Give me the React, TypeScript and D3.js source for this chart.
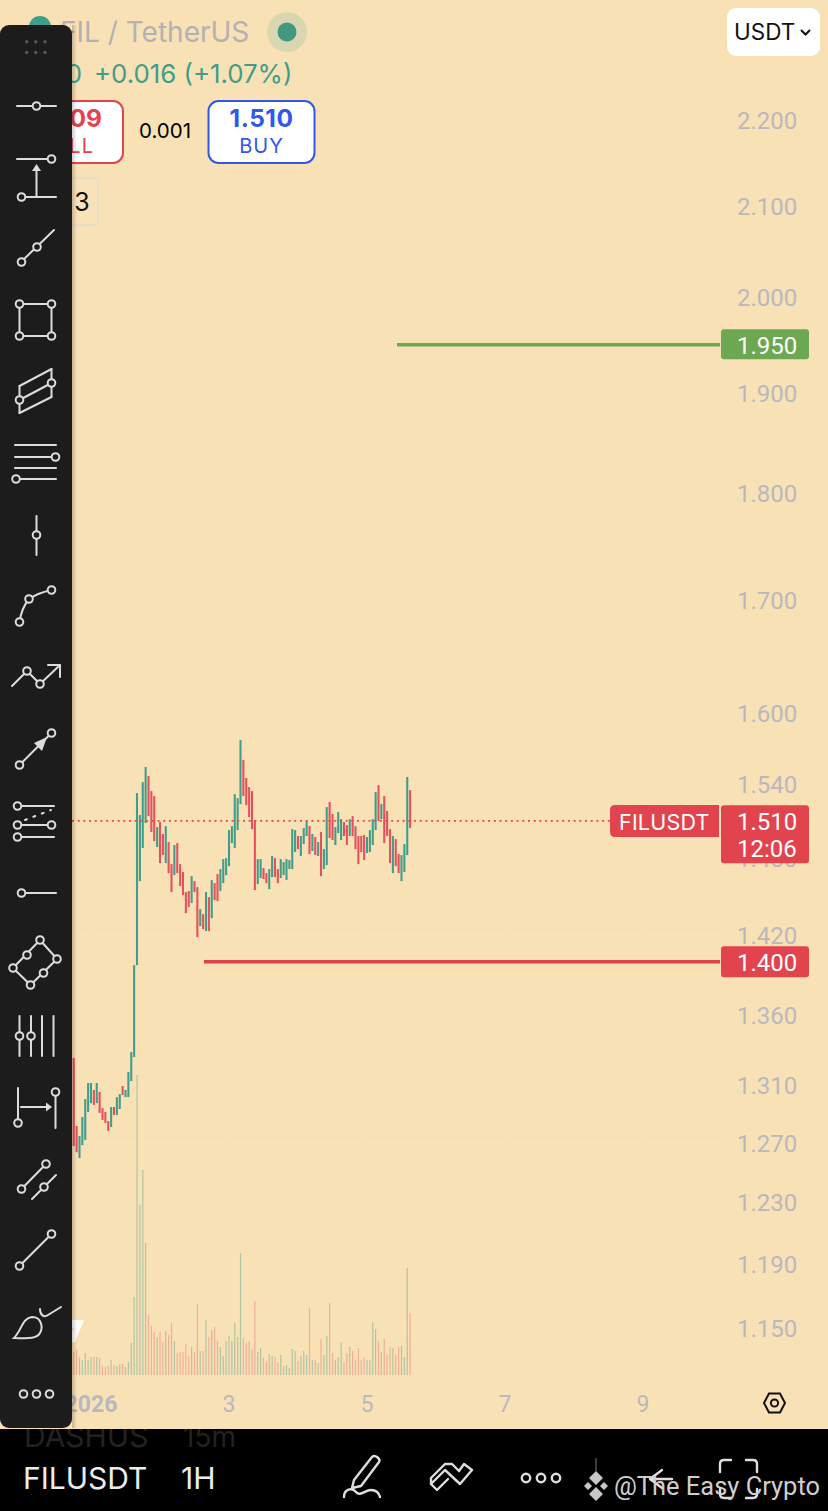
import * as d3 from "d3";

const WIDTH = 828;
const HEIGHT = 1511;
const FONT = "Inter, Roboto, sans-serif";
const NUM_FONT = "Roboto, Inter, sans-serif";

const priceTicks = [2.2, 2.1, 2.0, 1.9, 1.8, 1.7, 1.6, 1.54, 1.48, 1.42, 1.36, 1.31, 1.27, 1.23, 1.19, 1.15];
const dayTicks = [1, 3, 5, 7, 9];
const firstCandle = Date.UTC(2025, 11, 31, 18);
const lastPrice = 1.51;
const targetPrice = 1.95;
const stopPrice = 1.4;

const highs = [
  1.3294, 1.2818, 1.2749, 1.288, 1.3004, 1.3117, 1.3117, 1.3068, 1.3117, 1.3054, 1.2942, 1.2914, 1.2852, 1.2949, 1.2949, 1.3018,
  1.3039, 1.3096, 1.3068, 1.3195, 1.3337, 1.3974, 1.5327,
  1.5147, 1.5417, 1.5543, 1.5468, 1.5343, 1.5302, 1.5049, 1.509, 1.4994, 1.5057, 1.4929, 1.4753, 1.4905, 1.4921, 1.4753, 1.469,
  1.4533, 1.4541, 1.4658, 1.4619, 1.4572, 1.4401, 1.4362, 1.4533, 1.4494, 1.4627, 1.4603, 1.4674, 1.4714, 1.4793, 1.4801, 1.5025,
  1.5057, 1.5318, 1.5285, 1.5769, 1.5601, 1.5451, 1.5376,
  1.5343, 1.5106, 1.4793, 1.4793, 1.4722, 1.4682, 1.4714, 1.4817, 1.4801, 1.4714, 1.4793, 1.4769, 1.4793, 1.4785, 1.5033, 1.5025,
  1.4977, 1.4977, 1.5041, 1.5098, 1.5057, 1.4994, 1.4969, 1.4929, 1.5009, 1.4873, 1.5212, 1.5253, 1.5155, 1.5049, 1.5171, 1.5114,
  1.509, 1.5066, 1.5114, 1.5139, 1.5057, 1.4977, 1.4977, 1.4985, 1.4969, 1.5025, 1.5114, 1.5335, 1.5392, 1.5236, 1.5302, 1.518,
  1.5033, 1.4977, 1.4953, 1.4833, 1.4825, 1.4913, 1.546, 1.5351,
];
const lows = [
  1.268, 1.2639, 1.2599, 1.2687, 1.2722, 1.2914, 1.2976, 1.2963, 1.2976, 1.2908, 1.2859, 1.2839, 1.2784, 1.2811, 1.2894, 1.2894,
  1.2935, 1.3032, 1.3018, 1.3018, 1.3131, 1.3301, 1.3974,
  1.4619, 1.4881, 1.5082, 1.5139, 1.5009, 1.4937, 1.4889, 1.4761, 1.4825, 1.4761, 1.4682, 1.4533, 1.4666, 1.4682, 1.458, 1.451,
  1.437, 1.4417, 1.4448, 1.4533, 1.4186, 1.427, 1.4247, 1.4232, 1.4232, 1.4331, 1.4471, 1.4463, 1.4541, 1.4603, 1.4666, 1.4737,
  1.4921, 1.4881, 1.5025, 1.5236, 1.5302, 1.5228, 1.5131,
  1.5033, 1.4549, 1.4596, 1.4643, 1.4635, 1.4603, 1.4556, 1.465, 1.465, 1.4603, 1.4643, 1.4666, 1.4627, 1.4714, 1.4714, 1.4849,
  1.4873, 1.4817, 1.4913, 1.4977, 1.4833, 1.4857, 1.4825, 1.4817, 1.4658, 1.4714, 1.4745, 1.4961, 1.4945, 1.4905, 1.5001, 1.4945,
  1.4977, 1.4905, 1.4977, 1.4977, 1.4873, 1.4753, 1.4849, 1.4785, 1.4841, 1.4849, 1.4905, 1.5025, 1.5098, 1.5114, 1.4921, 1.4977,
  1.4761, 1.4682, 1.4737, 1.4682, 1.4619, 1.469, 1.4825, 1.5041,
];
const directions = (
  "RRGGGGGRGRRRRGRGGRGGGGG" +
  "GGGRRRGRRGRRGRRRRRGRRGRGRGRRGGGGGGGGRRR" +
  "RRGGRRGGRRGGGGGGRGGGRGRGRGGRRGGGRRGRRRRRGGGGRGRRRGRRGGGR"
).split("");
const volumes = [
  23, 25, 18, 15, 22, 15, 18, 18, 18, 17, 9, 8, 9, 15, 10, 9, 11, 11, 8, 13, 32, 78, 300, 170, 205, 132, 60, 49, 43, 38, 43, 33,
  44, 40, 52, 34, 22, 23, 23, 31, 19, 28, 23, 71, 24, 24, 55, 38, 45, 48, 34, 28, 19, 34, 39, 34, 52, 38, 122, 37, 32, 34, 25,
  74, 23, 27, 17, 13, 21, 19, 18, 13, 20, 9, 10, 7, 26, 24, 14, 19, 24, 20, 67, 15, 15, 12, 36, 20, 39, 72, 22, 15, 18, 33, 13,
  22, 28, 24, 15, 27, 15, 17, 15, 15, 53, 46, 34, 23, 36, 20, 28, 27, 20, 28, 29, 18, 107, 62,
];

const y = d3.scaleLog().domain([1.15, 2.2]).range([1328, 120]);
const x = d3.scaleUtc().domain([Date.UTC(2026, 0, 3), Date.UTC(2026, 0, 9)]).range([229, 643]);
const volumeY = d3.scaleLinear().domain([0, 290]).range([1375, 1085]);
const candleX = (i: number) => x(firstCandle + i * 3600000);

const GREEN = "#3f9d8b";
const RED = "#e4505c";
const AXIS = "#b9b8be";
const ICON = "#dcdcdc";
const PANEL = "#1c1c1c";

const lines: number[][] = [
  [17, 106, 56, 106], [17, 159, 51, 159], [25, 197, 56, 197], [36.5, 197, 36.5, 168], [54, 230, 21, 262],
  [19.5, 304, 51.5, 304], [51.5, 304, 51.5, 336], [51.5, 336, 19.5, 336], [19.5, 336, 19.5, 304],
  [19.5, 386, 51.5, 369], [51.5, 369, 51.5, 397], [51.5, 397, 19.5, 413], [19.5, 413, 19.5, 386], [19.5, 400, 51.5, 383],
  [15, 445, 56, 445], [15, 457, 56, 457], [15, 468, 56, 468], [16, 479, 56, 479],
  [36.5, 516, 36.5, 555], [12, 686, 27, 671], [27, 671, 40, 684], [40, 684, 60, 665], [48, 665, 60, 665], [60, 665, 60, 677],
  [19.5, 765, 51.5, 733], [18, 806, 54, 806], [18, 825, 51, 825], [18, 837, 54, 837], [21.5, 893, 56, 893],
  [13, 968, 40, 940], [40, 940, 57, 959], [57, 959, 30.5, 985], [30.5, 985, 13, 968],
  [19.5, 1016, 19.5, 1056], [31, 1016, 31, 1056], [42, 1016, 42, 1056], [53.5, 1016, 53.5, 1056],
  [18, 1088, 18, 1123], [55.5, 1092, 55.5, 1128], [21, 1107, 50, 1107], [21.5, 1189, 46, 1164], [32, 1199, 56, 1175],
  [19.5, 1266, 51.5, 1234],
];
const rings: number[][] = [
  [36.5, 106], [51.5, 159], [21.5, 197], [37, 247], [21.5, 262], [19.5, 304], [51.5, 304], [19.5, 336], [51.5, 336],
  [19.5, 400], [51.5, 383], [55.5, 457], [16, 479], [36.5, 535], [19.5, 622], [29, 599], [51.5, 590], [27, 671], [40, 684],
  [19.5, 765], [51.5, 733], [17.5, 806], [17.5, 825], [51.5, 825], [17.5, 837], [21.5, 893], [40, 940], [27, 955], [13, 968],
  [30.5, 985], [43.5, 973], [57, 959], [19.5, 1036], [31, 1036], [18, 1123], [55.5, 1092], [21.5, 1189], [46, 1164], [44, 1187],
  [19.5, 1266], [51.5, 1234], [23.5, 1394], [36.5, 1394], [49.5, 1394],
];

function Toolbar() {
  return (
    <g>
      <rect x={72} y={25} width={5} height={1403} fill="url(#toolShade)" />
      <rect x={0} y={25} width={72} height={1403} rx={9} fill={PANEL} />
      {[26.7, 35.7, 45].flatMap((cx) => [41.7, 52.5].map((cy) => (
        <circle key={`${cx}-${cy}`} cx={cx} cy={cy} r={1.7} fill="#565656" />
      )))}
      <g stroke={ICON} strokeWidth={2} fill="none" strokeLinecap="round">
        {lines.map((l, i) => <line key={i} x1={l[0]} y1={l[1]} x2={l[2]} y2={l[3]} />)}
        <path d="M19.5 622C21 612 24 605 29 599C35 595 42 592 51.5 590" />
        <line x1={25} y1={820} x2={51} y2={810} strokeDasharray="2 7" />
        <path d="M14 1338C22 1330 22 1318 32 1317C42 1317 43 1328 40 1333C36 1340 24 1338 14 1338Z" />
        <path d="M40 1309C40 1315 44 1318 48 1315L61 1307" />
        {rings.map((r, i) => <circle key={i} cx={r[0]} cy={r[1]} r={3.8} fill={PANEL} />)}
      </g>
      <path d="M36.5 164L32 171H41Z" fill={ICON} />
      <path d="M47 737L34 743L42 751Z" fill={ICON} />
      <path d="M52 1107L46 1102.5V1111.5Z" fill={ICON} />
    </g>
  );
}

function Footer() {
  return (
    <g fontFamily={FONT}>
      <defs>
        <clipPath id="symbolClip"><rect x={0} y={1429} width={148} height={82} /></clipPath>
        <clipPath id="footerClip"><rect x={0} y={1429} width={WIDTH} height={82} /></clipPath>
      </defs>
      <rect x={0} y={1429} width={WIDTH} height={82} fill="#000" />
      <g clipPath="url(#symbolClip)" fontSize={30}>
        <text x={24} y={1447} fill="#222">DASHUSDT</text>
        <text x={23} y={1489} fill="#ececec">FILUSDT</text>
      </g>
      <g clipPath="url(#footerClip)">
        <text x={183} y={1447} fontSize={28} fill="#222">15m</text>
      </g>
      <text x={181} y={1489} fontSize={30} fill="#ececec">1H</text>
      <g stroke="#dedede" strokeWidth={2.4} fill="none" strokeLinejoin="round" strokeLinecap="round">
        <path d="M354 1480L372 1457C375 1454 381 1459 379 1462L361 1486L352 1488Z" />
        <path d="M344 1497C344 1489 352 1487 356 1492C360 1497 365 1490 371 1490C376 1490 379 1493 380 1497" />
        <path d="M431 1484L445 1470L460 1484L472 1470L464 1464L459 1471L452 1464L445 1464L431 1478Z" />
        <path d="M431 1484L437 1490L448 1479" />
        <circle cx={526} cy={1478} r={4.2} />
        <circle cx={541} cy={1478} r={4.2} />
        <circle cx={556} cy={1478} r={4.2} />
        <path d="M720 1472V1464Q720 1460 724 1460H731M746 1460H753Q757 1460 757 1464V1472" />
        <path d="M720 1489V1494Q720 1498 724 1498H731M746 1498H753Q757 1498 757 1494V1489" />
        <path d="M662 1470L650 1479L662 1488M650 1479H672" />
      </g>
      <path d="M596 1471L603 1478L596 1485L589 1478ZM584 1486L588 1482L592 1486L588 1490ZM608 1486L604 1482L600 1486L604 1490ZM596 1487L603 1494L596 1501L589 1494Z" fill="#c8c8c8" />
      <line x1={596} y1={1458} x2={596} y2={1471} stroke="#777" strokeWidth={1} />
      <text x={614} y={1495} fontFamily={NUM_FONT} fontSize={26} fill="#cfcfcf" textLength={206} lengthAdjust="spacingAndGlyphs">@The Easy Crypto</text>
    </g>
  );
}

function Header() {
  return (
    <g fontFamily={FONT}>
      <circle cx={40} cy={27} r={11} fill={GREEN} />
      <text x={60} y={42} fontSize={28} fill="#b3b1b3">FIL / TetherUS</text>
      <circle cx={287} cy={32} r={20} fill="#d9d7b0" />
      <circle cx={287} cy={32} r={9.5} fill="#419782" />
      <text x={82} y={83} fontSize={25.8} fill={GREEN} textAnchor="end">1.510</text>
      <text x={94} y={83} fontSize={25.8} fill={GREEN}>+0.016 (+1.07%)</text>

      <rect x={10} y={101} width={113} height={62} rx={10} fill="#fff" stroke="#e2444e" strokeWidth={2} />
      <text x={102} y={127} fontSize={24.5} fontWeight={700} fill="#e2444e" textAnchor="end">1.509</text>
      <text x={94} y={153} fontSize={20} fill="#e2444e" textAnchor="end" letterSpacing={1}>SELL</text>
      <text x={165} y={138} fontSize={20.5} fill="#000" textAnchor="middle">0.001</text>
      <rect x={208.5} y={101} width={106} height={62} rx={10} fill="#fff" stroke="#3158e8" strokeWidth={2} />
      <text x={261.5} y={127} fontSize={24.5} fontWeight={700} fill="#3158e8" textAnchor="middle" letterSpacing={0.5}>1.510</text>
      <text x={261.5} y={153} fontSize={20} fill="#3158e8" textAnchor="middle" letterSpacing={1}>BUY</text>
      <rect x={40} y={178} width={58} height={47} rx={5} fill="#f9e2b9" stroke="#e3dccb" strokeWidth={1.5} />
      <text x={82} y={211} fontSize={25} fill="#111" textAnchor="middle">3</text>

      <rect x={727} y={8} width={93} height={48} rx={9} fill="#fff" />
      <text x={734} y={40} fontSize={22.5} fill="#111">USDT</text>
      <path d="M801 30L805.5 34.5L810 30" fill="none" stroke="#111" strokeWidth={2} />
    </g>
  );
}

function PriceTag({ price, color, height }: { price: number; color: string; height: number }) {
  const top = y(price) - 15.5;
  return (
    <g>
      <rect x={721} y={top} width={88} height={height} rx={3} fill={color} />
      <text x={737} y={top + 24.5} fontSize={24} fill="#fff">
        {d3.format(".3f")(price)}
      </text>
    </g>
  );
}

export default function App() {
  const stepX = Math.abs(candleX(1) - candleX(0));
  const lastY = y(lastPrice);

  return (
    <svg
      width={WIDTH}
      height={HEIGHT}
      viewBox={`0 0 ${WIDTH} ${HEIGHT}`}
      style={{ position: "absolute", left: 0, top: 0 }}
    >
      <defs>
        <linearGradient id="toolShade" x1="0" x2="1" y1="0" y2="0">
          <stop offset="0" stopColor="#000" stopOpacity={0.2} />
          <stop offset="1" stopColor="#000" stopOpacity={0} />
        </linearGradient>
      </defs>
      <rect width={WIDTH} height={HEIGHT} fill="#f9e1b6" />

      {/* faint grid */}
      <g stroke="#fae3bb" strokeWidth={1}>
        {priceTicks.map((t) => <line key={t} x1={0} x2={720} y1={y(t)} y2={y(t)} />)}
        {dayTicks.map((d) => {
          const px = x(Date.UTC(2026, 0, d));
          return <line key={d} x1={px} x2={px} y1={0} y2={1429} />;
        })}
      </g>

      {/* volume */}
      <g opacity={0.42}>
        {volumes.map((v, i) => (
          <rect
            key={i}
            x={candleX(i) - 0.6}
            y={volumeY(v)}
            width={1.2}
            height={volumeY(0) - volumeY(v)}
            fill={directions[i] === "G" ? "#4f9f8c" : "#ea6a70"}
          />
        ))}
      </g>

      {/* candles */}
      {highs.map((h, i) => (
        <rect
          key={i}
          x={candleX(i) - stepX * 0.36}
          y={y(h)}
          width={stepX * 0.72}
          height={y(lows[i]) - y(h)}
          fill={directions[i] === "G" ? GREEN : RED}
        />
      ))}

      <line x1={72} x2={610} y1={lastY} y2={lastY} stroke="#df4a52" strokeWidth={1.6} strokeDasharray="2 3.7" />
      <line x1={397} x2={720} y1={y(targetPrice)} y2={y(targetPrice)} stroke="#6ca851" strokeWidth={3.5} />
      <line x1={204} x2={720} y1={y(stopPrice)} y2={y(stopPrice)} stroke="#de4349" strokeWidth={3.5} />

      {/* axes */}
      <g fontFamily={NUM_FONT} fontSize={24} fill={AXIS}>
        {priceTicks.map((t) => (
          <text key={t} x={737} y={y(t) + 8.5}>{d3.format(".3f")(t)}</text>
        ))}
        {dayTicks.map((d) => (
          <text
            key={d}
            x={x(Date.UTC(2026, 0, d))}
            y={1412}
            textAnchor="middle"
            fontSize={23}
            fontWeight={d === 1 ? 700 : 400}
          >
            {d === 1 ? "2026" : d}
          </text>
        ))}
      </g>
      <path d="M764 1403L769 1393.5H780L785 1403L780 1412.5H769Z" fill="none" stroke="#111" strokeWidth={2} />
      <circle cx={774.5} cy={1403} r={3.6} fill="none" stroke="#111" strokeWidth={2} />

      {/* price labels */}
      <g fontFamily={NUM_FONT}>
        <PriceTag price={targetPrice} color="#6ca851" height={30} />
        <PriceTag price={stopPrice} color="#e2444e" height={31} />
        <PriceTag price={lastPrice} color="#e2444e" height={58} />
        <text x={737} y={857} fontSize={24} fill="#fff">12:06</text>
        <path d="M719 805V837H615Q610 837 610 832V810Q610 805 615 805Z" fill="#e2444e" />
        <text x={619} y={830} fontFamily={FONT} fontSize={21.5} fill="#fff" letterSpacing={0.2}>FILUSDT</text>
      </g>

      <Header />
      <path d="M72 1320H84L75 1342H72V1332L74 1328H72Z" fill="#fff" />
      <Toolbar />
      <Footer />
    </svg>
  );
}
